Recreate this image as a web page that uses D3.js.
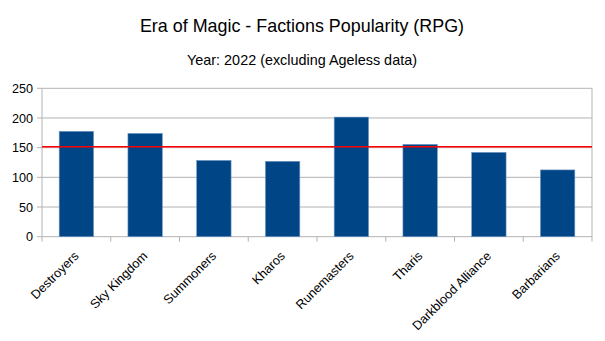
<html>
<head>
<script src="https://d3js.org/d3.v7.min.js"></script>
<style>
  body { margin: 0; background: white; }
  text { font-family: "Liberation Sans", Arial, sans-serif; }
</style>
</head>
<body>
<script>
  var categories = ["Destroyers", "Sky Kingdom", "Summoners", "Kharos", "Runemasters", "Tharis", "Darkblood Alliance", "Barbarians"];
  var popularity = [177.5, 174, 128.5, 127, 201.5, 155.5, 142, 112.5];
  var referenceLine = 151.5;
  var yTicks = [0, 50, 100, 150, 200, 250];

  var svgWidth = 605, svgHeight = 341;
  var plotLeft = 42, plotRight = 592, plotTop = 88.3, plotBottom = 236.7;

  var svg = d3.select("body").append("svg")
    .attr("width", svgWidth)
    .attr("height", svgHeight);

  svg.append("rect")
    .attr("width", svgWidth).attr("height", svgHeight)
    .style("fill", "white");

  svg.append("text").text("Era of Magic - Factions Popularity (RPG)")
    .attr("x", 302).attr("y", 32)
    .attr("text-anchor", "middle")
    .attr("font-size", "17.9px")
    .style("fill", "black");

  svg.append("text").text("Year: 2022 (excluding Ageless data)")
    .attr("x", 302).attr("y", 65)
    .attr("text-anchor", "middle")
    .attr("font-size", "14.4px")
    .style("fill", "black");

  var x = d3.scaleBand().domain(categories).range([plotLeft, plotRight]).paddingInner(0).paddingOuter(0);
  var y = d3.scaleLinear().domain([0, 250]).range([plotBottom, plotTop]);

  // gridlines + left ticks
  svg.append("g").selectAll("line").data(yTicks).enter().append("line")
    .attr("x1", plotLeft - 5).attr("x2", plotRight)
    .attr("y1", function(d) { return y(d); })
    .attr("y2", function(d) { return y(d); })
    .style("stroke", "#b3b3b3").style("stroke-width", 1);

  svg.append("g").selectAll("text").data(yTicks).enter().append("text")
    .text(function(d) { return d; })
    .attr("x", plotLeft - 9)
    .attr("y", function(d) { return y(d); })
    .attr("dy", "0.36em")
    .attr("text-anchor", "end")
    .attr("font-size", "12.6px")
    .style("fill", "black");

  // category boundary ticks
  var bounds = categories.map(function(c) { return x(c); }).concat([plotRight]);
  svg.append("g").selectAll("line").data(bounds).enter().append("line")
    .attr("x1", function(d) { return d; }).attr("x2", function(d) { return d; })
    .attr("y1", function(d, i) { return (i === 0 || i === bounds.length - 1) ? plotTop : plotBottom; })
    .attr("y2", plotBottom + 5)
    .style("stroke", "#b3b3b3").style("stroke-width", 1);

  // bars
  var barW = x.bandwidth() * 0.5;
  svg.append("g").selectAll("rect").data(popularity).enter().append("rect")
    .attr("x", function(d, i) { return x(categories[i]) + (x.bandwidth() - barW) / 2; })
    .attr("y", function(d) { return y(d); })
    .attr("width", barW)
    .attr("height", function(d) { return y(0) - y(d); })
    .style("fill", "#004586")
    .style("stroke", "#7096c4").style("stroke-width", 0.6);

  // reference line
  svg.append("line")
    .attr("x1", plotLeft).attr("x2", plotRight)
    .attr("y1", y(referenceLine)).attr("y2", y(referenceLine))
    .style("stroke", "#ff0000").style("stroke-width", 1.6);

  // category labels
  svg.append("g").selectAll("text").data(categories).enter().append("text")
    .text(function(d) { return d; })
    .attr("transform", function(d) { return "translate(" + (x(d) + x.bandwidth() / 2 + 3) + "," + (plotBottom + 20) + ") rotate(-45)"; })
    .attr("text-anchor", "end")
    .attr("font-size", "12.7px")
    .style("fill", "black");
</script>
</body>
</html>
